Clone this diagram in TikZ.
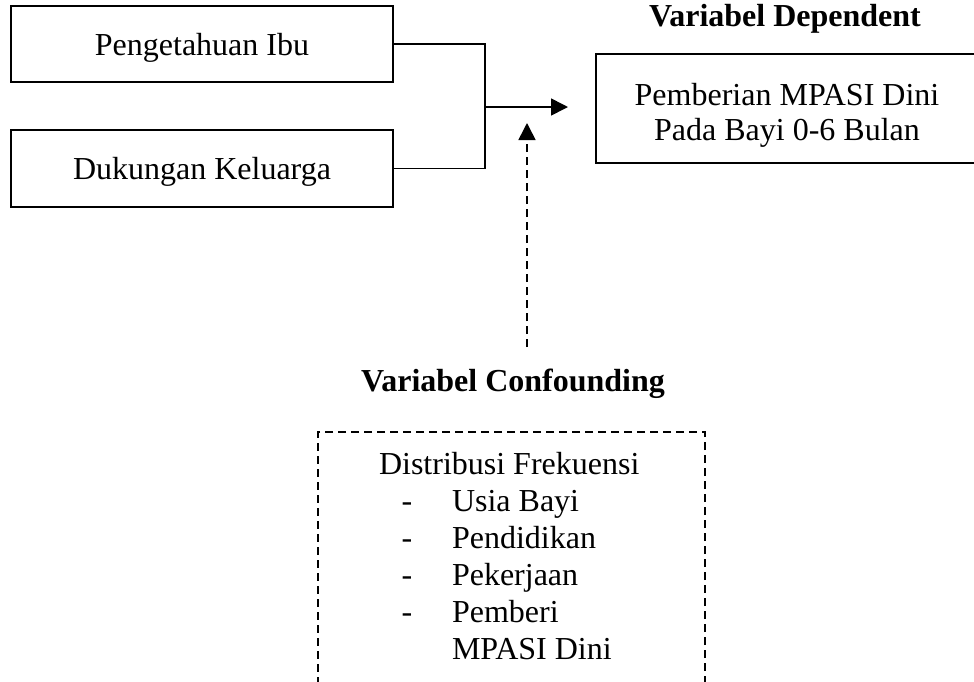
\documentclass[tikz,border=0pt]{standalone}
\usepackage{fontspec}
\setmainfont{Liberation Serif}
\usetikzlibrary{arrows.meta}
\begin{document}
\begin{tikzpicture}[x=1pt,y=-1pt,
  every node/.style={inner sep=0pt, outer sep=0pt, font=\fontsize{32}{37}\selectfont},
  solidbox/.style={draw, line width=1.6pt, text height=22pt, text depth=0pt},
  titletext/.style={font=\fontsize{32}{37}\selectfont\bfseries, anchor=base},
  conn/.style={line width=1.6pt},
  tip/.style={-{Triangle[length=17pt,width=17pt]}},
  dashline/.style={dash pattern=on 8pt off 5pt},
]
\useasboundingbox (0,0) rectangle (974,681);

% left boxes
\node[solidbox, minimum width=382pt, minimum height=76pt] (b1) at (202,44) {Pengetahuan Ibu};
\node[solidbox, minimum width=382pt, minimum height=77pt] (b2) at (202,168.5) {Dukungan Keluarga};

% dependent
\node[titletext] (td) at (785,26) {Variabel Dependent};
\node[draw, line width=1.6pt, minimum width=382pt, minimum height=109pt] (rb) at (787,108.5) {};
\node[anchor=base] (r1) at (787,105) {Pemberian MPASI Dini};
\node[anchor=base] (r2) at (787,140) {Pada Bayi 0-6 Bulan};

% confounding
\node[titletext] (tc) at (513,391) {Variabel Confounding};
\node[draw, line width=1.6pt, dashline, minimum width=387pt, minimum height=268pt] (cbox) at (511.5,566) {};
\node[anchor=base west] (l0) at (379,474) {Distribusi Frekuensi};
\node[anchor=base] (d1) at (407,511) {-};
\node[anchor=base west] (l1) at (452,511) {Usia Bayi};
\node[anchor=base] (d2) at (407,548) {-};
\node[anchor=base west] (l2) at (452,548) {Pendidikan};
\node[anchor=base] (d3) at (407,585) {-};
\node[anchor=base west] (l3) at (452,585) {Pekerjaan};
\node[anchor=base] (d4) at (407,622) {-};
\node[anchor=base west] (l4) at (452,622) {Pemberi};
\node[anchor=base west] (l5) at (452,659) {MPASI Dini};

% connectors
\coordinate (j) at (485,107);
\coordinate (ah) at (568,107);
\draw[conn] (b1.east) -| (j);
\draw[conn] (b2.east) -| (j);
\draw[conn, tip] (j) -- (ah);
\coordinate (cbot) at (527,347);
\coordinate (ctop) at (527,123);
\draw[conn, dashline, tip] (cbot) -- (ctop);
\end{tikzpicture}
\end{document}
